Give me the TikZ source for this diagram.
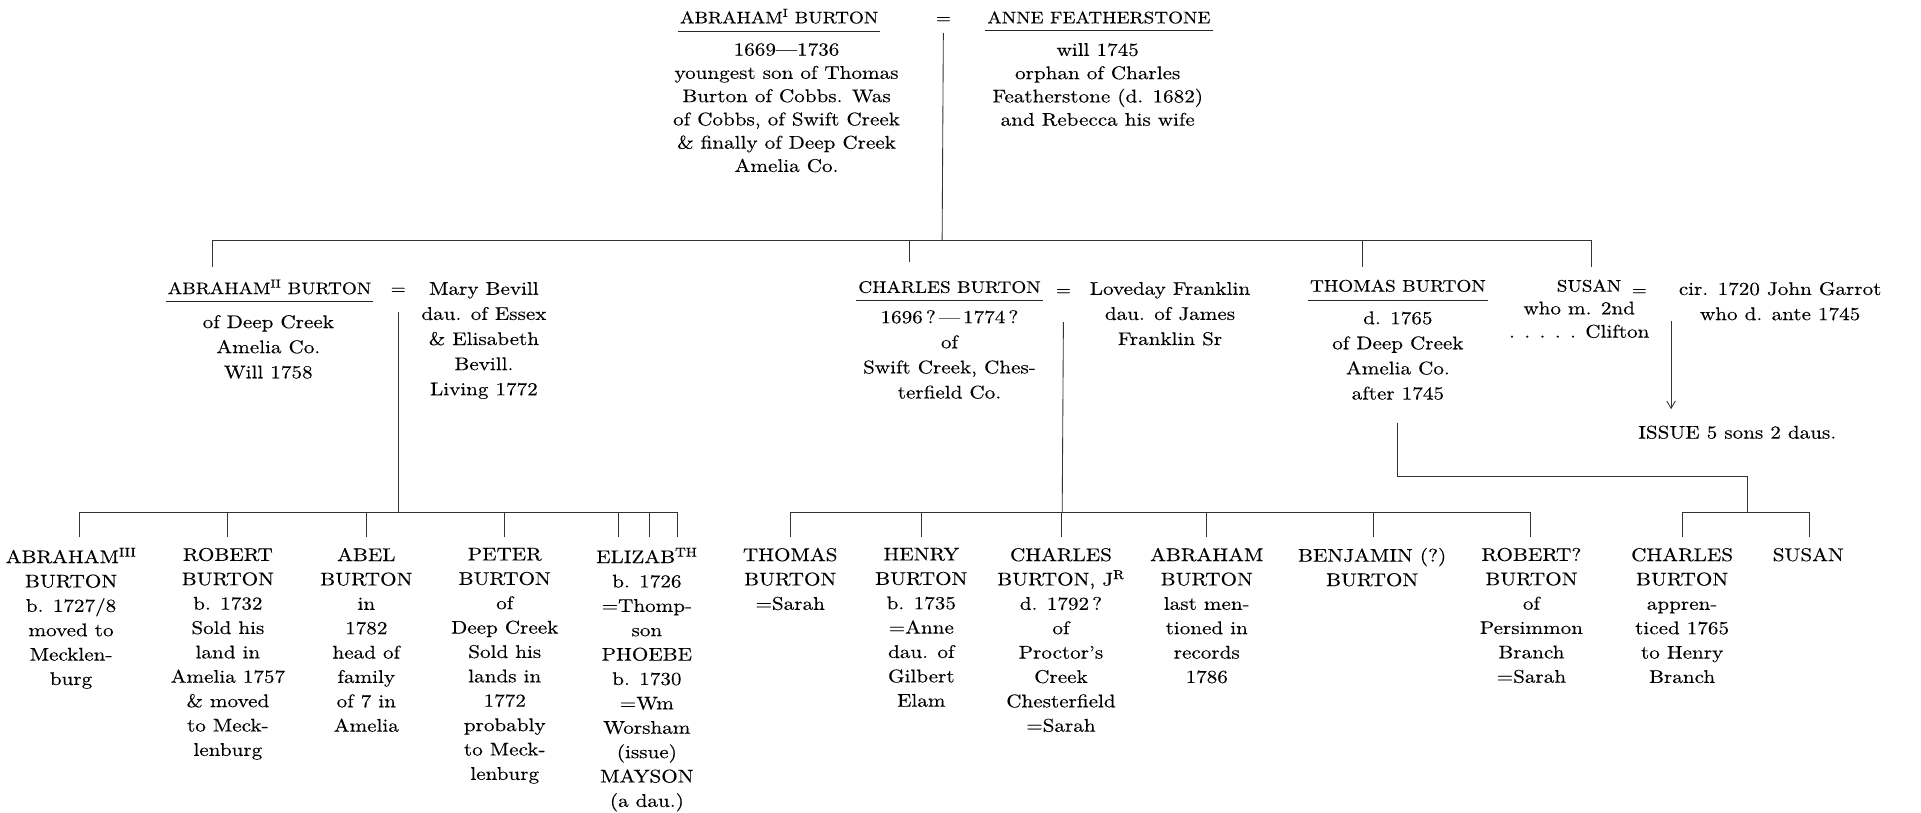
\documentclass[tikz,border=0pt]{standalone}
\usepackage{fontspec}
\setmainfont{lmroman10-regular.otf}[FakeStretch=1.15,FakeBold=0.2]
\usetikzlibrary{arrows.meta}
\begin{document}
\begin{tikzpicture}[x=1pt,y=-1pt,
  txt/.style={font=\fontsize{15}{19.5}\selectfont, align=center, inner sep=0pt, anchor=north, text=black},
  txtb/.style={txt, font=\fontsize{15}{20.5}\selectfont},
  txtc/.style={txt, font=\fontsize{15}{19}\selectfont},
  txtd/.style={txt, font=\fontsize{15}{19.9}\selectfont},
  nm/.style={font=\fontsize{13.6}{17}\selectfont, inner xsep=1.5pt, inner ysep=0pt, anchor=base, text=black},
  ln/.style={line width=0.7pt, draw=black!80},
  uline/.style={line width=0.8pt, draw=black!85},
]
\useasboundingbox (0,0) rectangle (1568,663);

% ---------- generation 1 ----------
\node[nm] (a1) at (636,19) {ABRAHAM\textsuperscript{I} BURTON};
\node[nm] (eq1) at (770,19) {=};
\node[nm] (anne) at (897,19) {ANNE FEATHERSTONE};
\draw[uline] ([yshift=-7pt]a1.base west) -- ([yshift=-7pt]a1.base east);
\draw[uline] ([yshift=-6pt]anne.base west) -- ([yshift=-6pt]anne.base east);
\node[txtc] (a1i) at (642,35) {1669---1736\\youngest son of Thomas\\Burton of Cobbs. Was\\of Cobbs, of Swift Creek\\\& finally of Deep Creek\\Amelia Co.};
\node[txtc] (annei) at (896,35) {will 1745\\orphan of Charles\\Featherstone (d. 1682)\\and Rebecca his wife};

\coordinate (j1) at (769,196);
\coordinate (b1l) at (173,196);
\coordinate (b1c) at (742,196);
\coordinate (b1t) at (1112,196);
\coordinate (b1r) at (1299,196);
\draw[ln] ([yshift=-8pt]eq1.base) -- (j1);
\draw[ln] (b1l) -- (b1r);
\coordinate (d1a) at (173,218);
\coordinate (d1b) at (742,214);
\coordinate (d1c) at (1112,218);
\coordinate (d1d) at (1299,218);
\draw[ln] (b1l) -- (d1a);
\draw[ln] (b1c) -- (d1b);
\draw[ln] (b1t) -- (d1c);
\draw[ln] (b1r) -- (d1d);

% ---------- generation 2 ----------
\node[nm] (a2) at (220,240) {ABRAHAM\textsuperscript{II} BURTON};
\draw[uline] ([yshift=-6pt]a2.base west) -- ([yshift=-6pt]a2.base east);
\node[nm] (eq2) at (325,240) {=};
\node[txtb] (mary) at (395,230) {Mary Bevill\\dau. of Essex\\\& Elisabeth\\Bevill.\\Living 1772};
\node[txtb] (a2i) at (219,257) {of Deep Creek\\Amelia Co.\\Will 1758};
\coordinate (j2) at (325,418);
\draw[ln] ([yshift=-15pt]eq2.base) -- (j2);

\node[nm] (ch) at (775,239) {CHARLES BURTON};
\draw[uline] ([yshift=-6pt]ch.base west) -- ([yshift=-6pt]ch.base east);
\node[nm] (eq3) at (868,241) {=};
\node[txtb] (lov) at (955,230) {Loveday Franklin\\dau. of James\\Franklin Sr};
\node[txtb] (chi) at (775,253) {1696\,?\,---\,1774\,?\\of\\Swift Creek, Ches-\\terfield Co.};
\coordinate (j3) at (867,418);
\draw[ln] ([yshift=-22pt]eq3.base) -- (j3);

\node[nm] (th) at (1141,238) {THOMAS BURTON};
\draw[uline] ([yshift=-7pt]th.base west) -- ([yshift=-7pt]th.base east);
\node[txtb] (thi) at (1141,254) {d. 1765\\of Deep Creek\\Amelia Co.\\after 1745};
\coordinate (t0) at (1141,345);
\coordinate (t1) at (1141,389);
\coordinate (t2) at (1426,389);
\coordinate (j4) at (1426,418);
\draw[ln] (t0) -- (t1) -- (t2) -- (j4);

\node[nm] (su) at (1297,238) {SUSAN};
\node[txtc] (sui) at (1289,246) {who m. 2nd\\. . . . . Clifton};
\node[nm] (eq4) at (1338,241) {=};
\node[txtb] (ga) at (1453,230) {cir. 1720 John Garrot\\who d. ante 1745};
\coordinate (ar0) at (1364,262);
\coordinate (ar1) at (1364,334);
\draw[ln,-{Straight Barb[length=6pt,width=7pt]}] (ar0) -- (ar1);
\node[nm, font=\fontsize{15}{17}\selectfont] (iss) at (1418,358) {ISSUE 5 sons 2 daus.};

% ---------- generation 3 : children of Abraham II ----------
\coordinate (L0) at (65,418);
\coordinate (L5) at (553,418);
\draw[ln] (L0) -- (L5);
\foreach \x/\n in {65/la,186/lb,299/lc,412/ld,505/le,530/lf,553/lg}{
  \coordinate (\n1) at (\x,418);
  \coordinate (\n2) at (\x,438);
  \draw[ln] (\n1) -- (\n2);
}
\node[txtd] (c1) at (58,447) {ABRAHAM\textsuperscript{III}\\BURTON\\b. 1727/8\\moved to\\Mecklen-\\burg};
\node[txtd] (c2) at (186,447) {ROBERT\\BURTON\\b. 1732\\Sold his\\land in\\Amelia 1757\\\& moved\\to Meck-\\lenburg};
\node[txtd] (c3) at (299,447) {ABEL\\BURTON\\in\\1782\\head of\\family\\of 7 in\\Amelia};
\node[txtd] (c4) at (412,447) {PETER\\BURTON\\of\\Deep Creek\\Sold his\\lands in\\1772\\probably\\to Meck-\\lenburg};
\node[txtd] (c5) at (528,447) {ELIZAB\textsuperscript{TH}\\b. 1726\\=Thomp-\\son\\PHOEBE\\b. 1730\\=Wm\\Worsham\\(issue)\\MAYSON\\(a dau.)};

% ---------- generation 3 : children of Charles ----------
\coordinate (R0) at (645,418);
\coordinate (R5) at (1250,418);
\draw[ln] (R0) -- (R5);
\foreach \x/\n in {645/ra,752/rb,866/rc,985/rd,1121/re,1249/rf}{
  \coordinate (\n1) at (\x,418);
  \coordinate (\n2) at (\x,438);
  \draw[ln] (\n1) -- (\n2);
}
\node[txtd] (s1) at (645,447) {THOMAS\\BURTON\\=Sarah};
\node[txtd] (s2) at (752,447) {HENRY\\BURTON\\b. 1735\\=Anne\\dau. of\\Gilbert\\Elam};
\node[txtd] (s3) at (866,447) {CHARLES\\BURTON, J\textsuperscript{R}\\d. 1792\,?\\of\\Proctor's\\Creek\\Chesterfield\\=Sarah};
\node[txtd] (s4) at (985,447) {ABRAHAM\\BURTON\\last men-\\tioned in\\records\\1786};
\node[txtd] (s5) at (1120,447) {BENJAMIN (?)\\BURTON};
\node[txtd] (s6) at (1250,447) {ROBERT?\\BURTON\\of\\Persimmon\\Branch\\=Sarah};

% ---------- generation 3 : children of Thomas ----------
\coordinate (T0) at (1373,418);
\coordinate (T1) at (1477,418);
\draw[ln] (T0) -- (T1);
\coordinate (T0b) at (1373,438);
\coordinate (T1b) at (1477,438);
\draw[ln] (T0) -- (T0b);
\draw[ln] (T1) -- (T1b);
\node[txtd] (u1) at (1373,447) {CHARLES\\BURTON\\appren-\\ticed 1765\\to Henry\\Branch};
\node[txtd] (u2) at (1476,447) {SUSAN};
\end{tikzpicture}
\end{document}
